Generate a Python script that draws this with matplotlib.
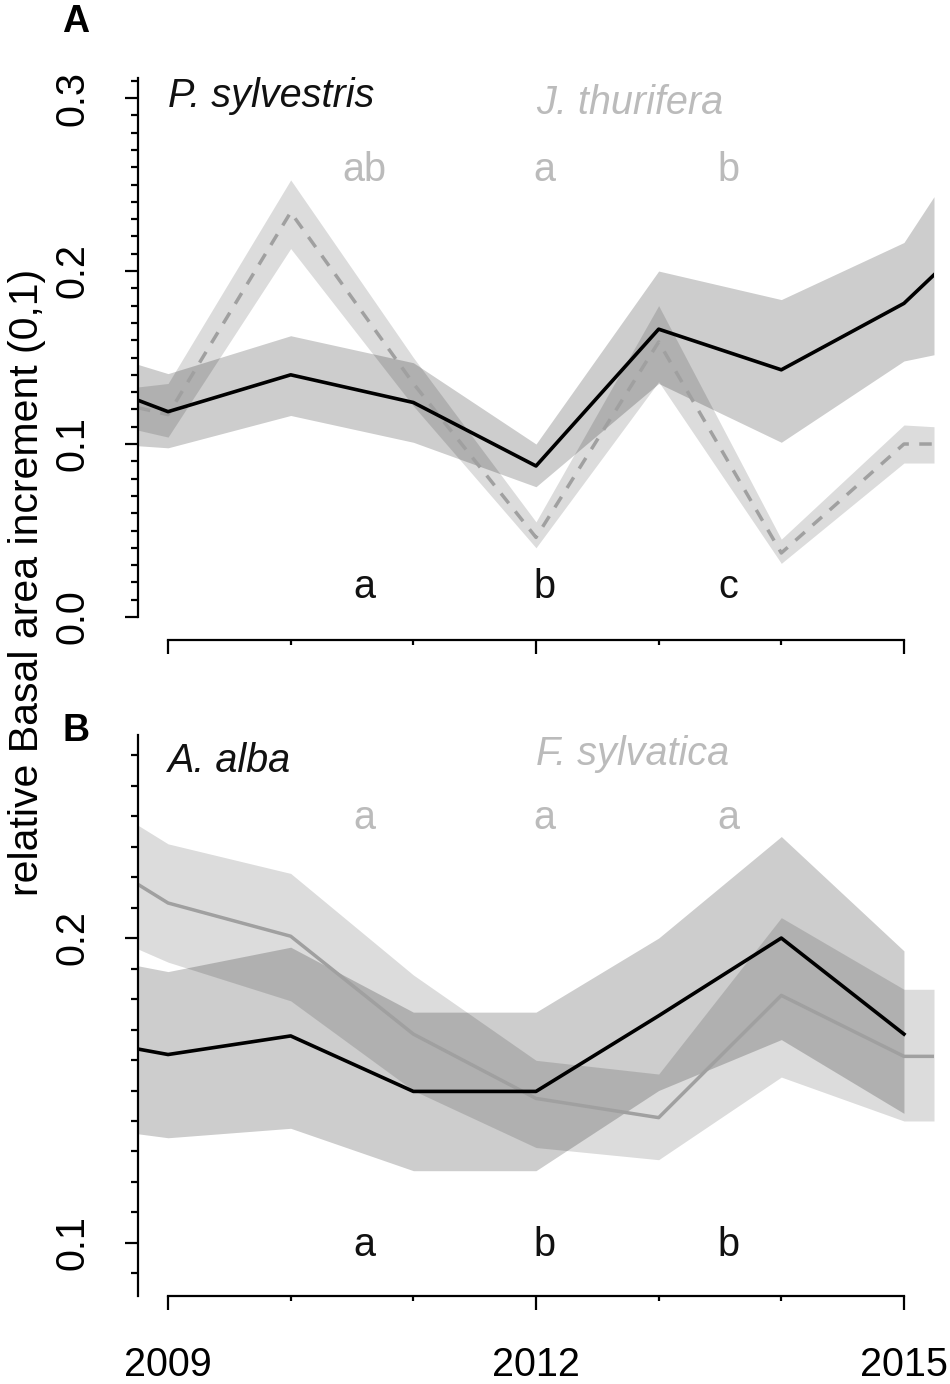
import numpy as np
import matplotlib
matplotlib.use("Agg")
import matplotlib.pyplot as plt
from matplotlib.ticker import FixedLocator, FixedFormatter

plt.rcParams["font.family"] = ["Liberation Sans", "DejaVu Sans"]

# x positions: the plotted years, plus the clipped ends at the plot edges
years = [2008.755, 2009, 2010, 2011, 2012, 2013, 2014, 2015, 2015.245]

# ----- panel A -----
psyl_mean = [0.1253, 0.1187, 0.140, 0.124, 0.0873, 0.1664, 0.1429, 0.1813, 0.1978]
psyl_hi = [0.146, 0.1407, 0.1626, 0.147, 0.100, 0.200, 0.1835, 0.2165, 0.243]
psyl_lo = [0.099, 0.0978, 0.1165, 0.101, 0.0753, 0.135, 0.101, 0.148, 0.1516]

jthu_mean = [0.121, 0.117, 0.234, 0.135, 0.046, 0.159, 0.037, 0.100, 0.100]
jthu_hi = [0.133, 0.135, 0.2527, 0.150, 0.055, 0.180, 0.045, 0.111, 0.110]
jthu_lo = [0.108, 0.104, 0.213, 0.122, 0.040, 0.136, 0.031, 0.089, 0.089]

# ----- panel B -----
aalb_mean = [0.1636, 0.1618, 0.1679, 0.1497, 0.1497, 0.1745, 0.2000, 0.1685, np.nan]
aalb_hi = [0.1909, 0.189, 0.197, 0.1757, 0.1757, 0.2000, 0.2333, 0.1958, np.nan]
aalb_lo = [0.1358, 0.1345, 0.1376, 0.1237, 0.1237, 0.150, 0.1667, 0.1425, np.nan]

fsyl_mean = [0.2176, 0.2115, 0.2006, 0.1685, 0.1474, 0.1411, 0.1812, 0.1612, 0.1612]
fsyl_hi = [0.2370, 0.2309, 0.2212, 0.1879, 0.1599, 0.1554, 0.2067, 0.1832, 0.1832]
fsyl_lo = [0.1964, 0.1921, 0.1794, 0.150, 0.1313, 0.1273, 0.1544, 0.1400, 0.1400]

# letters of the post-hoc groups
letter_x = [2010.6, 2012.07, 2013.57]
letters_A_grey = ["ab", "a", "b"]
letters_A_black = ["a", "b", "c"]
letters_B_grey = ["a", "a", "a"]
letters_B_black = ["a", "b", "b"]

GREY_TXT = "#bbbbbb"
FS = 28.5

W, H = 950, 1384
fig = plt.figure(figsize=(W / 100, H / 100), dpi=100)


def px_axes(left, top, right, bottom):
    return fig.add_axes([left / W, 1 - bottom / H, (right - left) / W, (bottom - top) / H])


def style_axes(ax, ylim, yspine, majors, minors, xlabels):
    ax.set_xlim(years[0], years[-1])
    ax.set_ylim(*ylim)
    for s in ("top", "right"):
        ax.spines[s].set_visible(False)
    ax.spines["left"].set_bounds(*yspine)
    ax.spines["bottom"].set_bounds(2009, 2015)
    for s in ("left", "bottom"):
        ax.spines[s].set_linewidth(1.6)

    ax.xaxis.set_major_locator(FixedLocator([2009, 2012, 2015]))
    ax.xaxis.set_minor_locator(FixedLocator([2010, 2011, 2013, 2014]))
    ax.xaxis.set_minor_formatter(FixedFormatter([]))
    if xlabels:
        ax.set_xticklabels(["2009", "2012", "2015"])
    else:
        ax.set_xticklabels([])

    ax.yaxis.set_major_locator(FixedLocator(majors))
    ax.yaxis.set_minor_locator(FixedLocator(minors))
    ax.set_yticklabels([f"{v:.1f}" for v in majors], rotation=90, va="center")

    ax.tick_params(axis="x", which="major", length=10, width=1.6, pad=26, labelsize=FS)
    ax.tick_params(axis="x", which="minor", length=3.6, width=1.6)
    ax.tick_params(axis="y", which="major", length=9.4, width=1.6, pad=24, labelsize=FS)
    ax.tick_params(axis="y", which="minor", length=5, width=1.6)


def draw_pair(ax, grey_mean, grey_lo, grey_hi, blk_mean, blk_lo, blk_hi, grey_style):
    ax.fill_between(years, grey_lo, grey_hi, color="k", alpha=0.137, lw=0)
    ax.plot(years, grey_mean, color="#a0a0a0", lw=2.5, linestyle=grey_style)
    ax.fill_between(years, blk_lo, blk_hi, color="k", alpha=0.196, lw=0)
    ax.plot(years, blk_mean, color="black", lw=2.6)


# ----- panel A -----
axA = px_axes(138, 78, 934, 640)
draw_pair(axA, jthu_mean, jthu_lo, jthu_hi, psyl_mean, psyl_lo, psyl_hi, (0, (3.6, 3.0)))
style_axes(axA, (-0.0133, 0.3116), (0, 0.3116), [0.0, 0.1, 0.2, 0.3],
           np.round(np.arange(0, 0.315, 0.01), 2), False)
axA.text(2009, 0.2948, "P. sylvestris", fontsize=FS, style="italic", color="#111111",
         ha="left", va="baseline")
axA.text(2012, 0.2907, "J. thurifera", fontsize=FS, style="italic", color=GREY_TXT,
         ha="left", va="baseline")
for x, g, b in zip(letter_x, letters_A_grey, letters_A_black):
    axA.text(x, 0.252, g, fontsize=FS, color=GREY_TXT, ha="center", va="baseline")
    axA.text(x, 0.011, b, fontsize=FS, color="#111111", ha="center", va="baseline")

# ----- panel B -----
axB = px_axes(138, 735, 934, 1296)
draw_pair(axB, fsyl_mean, fsyl_lo, fsyl_hi, aalb_mean, aalb_lo, aalb_hi, "-")
style_axes(axB, (0.0826, 0.2666), (0.0826, 0.2666), [0.1, 0.2],
           np.round(np.arange(0.09, 0.265, 0.01), 2), True)
axB.text(2009, 0.2546, "A. alba", fontsize=FS, style="italic", color="#111111",
         ha="left", va="baseline")
axB.text(2012, 0.2566, "F. sylvatica", fontsize=FS, style="italic", color=GREY_TXT,
         ha="left", va="baseline")
for x, g, b in zip(letter_x, letters_B_grey, letters_B_black):
    axB.text(x, 0.2359, g, fontsize=FS, color=GREY_TXT, ha="center", va="baseline")
    axB.text(x, 0.0958, b, fontsize=FS, color="#111111", ha="center", va="baseline")

# panel letters and shared y label
fig.text(76 / W, 1 - 32 / H, "A", fontsize=27, fontweight="bold", ha="center", va="baseline")
fig.text(76 / W, 1 - 741 / H, "B", fontsize=27, fontweight="bold", ha="center", va="baseline")
fig.text(27 / W, 1 - 582 / H, "relative Basal area increment (0,1)", fontsize=29.5,
         rotation=90, ha="center", va="center")

fig.savefig("out.png", dpi=100)
